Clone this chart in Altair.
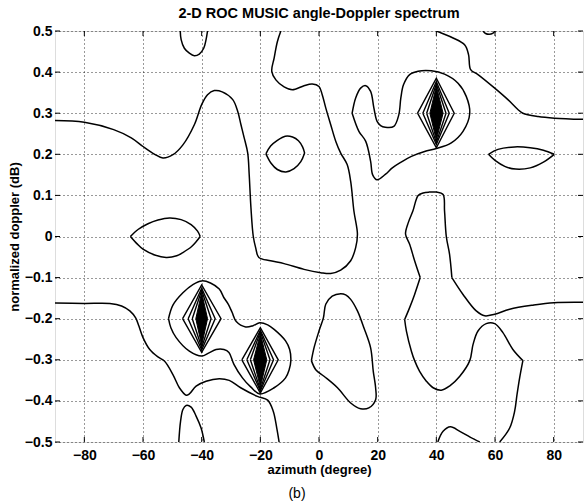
import altair as alt
import pandas as pd

# ---------------- axis ticks ----------------
x_ticks = [-80, -60, -40, -20, 0, 20, 40, 60, 80]
y_ticks = [-0.5, -0.4, -0.3, -0.2, -0.1, 0.0, 0.1, 0.2, 0.3, 0.4, 0.5]

# ---------------- contour lines (azimuth deg, normalized doppler) ----------------
contour_a = [(-90, 0.282), (-80, 0.278), (-70, 0.260), (-64, 0.240), (-60, 0.219), (-56, 0.200),
             (-53.2, 0.191), (-49.8, 0.199), (-46.4, 0.223), (-42.5, 0.272), (-40, 0.321), (-38, 0.345),
             (-35.7, 0.355), (-33, 0.352), (-29.4, 0.333), (-27.7, 0.304), (-26.6, 0.272), (-25.5, 0.240),
             (-24.3, 0.203), (-23.8, 0.151), (-23.2, 0.070), (-22.4, 0.0), (-21.6, -0.027), (-20.5, -0.051),
             (-16.5, -0.059), (-11.9, -0.066), (-5.1, -0.080), (0.6, -0.088), (4.0, -0.090), (7.4, -0.082),
             (10.8, -0.059), (12.5, -0.027), (13.1, 0.006), (11.9, 0.062), (10.8, 0.134), (9.6, 0.175),
             (7.4, 0.203), (5.7, 0.232), (4.0, 0.272), (2.3, 0.313), (1.1, 0.345), (0, 0.365),
             (-2.3, 0.371), (-5.1, 0.367), (-9.1, 0.357), (-11.9, 0.364), (-14.7, 0.381), (-16.1, 0.402),
             (-15.3, 0.434), (-14.2, 0.474), (-13.0, 0.5)]
contour_b = [(-47.3, 0.5), (-47.0, 0.479), (-45.9, 0.458), (-44.2, 0.446), (-42.5, 0.440),
             (-40.8, 0.444), (-39.3, 0.458), (-38.5, 0.479), (-38.0, 0.5)]
contour_c_top = [(-18.1, 0.201), (-16.5, 0.220), (-14.2, 0.234), (-11.5, 0.244), (-9.0, 0.242),
                 (-7.0, 0.233), (-5.6, 0.218), (-4.9, 0.203)]
contour_c_bot = [(-18.1, 0.201), (-16.4, 0.179), (-14.2, 0.163), (-11.3, 0.157), (-8.5, 0.165),
                 (-6.2, 0.182), (-4.9, 0.203)]
contour_d_top = [(-64.3, 0.0), (-61.7, 0.017), (-58.3, 0.031), (-54.9, 0.040), (-51.0, 0.045),
                 (-47.0, 0.041), (-43.6, 0.029), (-41.4, 0.013), (-40.5, 0.0)]
contour_d_bot = [(-64.3, 0.0), (-62.0, -0.018), (-60.0, -0.031), (-56.0, -0.045), (-52.1, -0.051),
                 (-48.5, -0.047), (-46.4, -0.039), (-43.5, -0.025), (-41.9, -0.013), (-40.5, 0.0)]
contour_e = [(-90, -0.162), (-80, -0.163), (-71.3, -0.163), (-67.3, -0.169), (-64.5, -0.181),
             (-62.5, -0.198), (-61.4, -0.218), (-60.0, -0.246), (-57.7, -0.275), (-54.9, -0.293),
             (-52.7, -0.303), (-49.8, -0.336), (-47.6, -0.368), (-45.3, -0.386), (-44.2, -0.383),
             (-41.9, -0.364), (-38.5, -0.352), (-34.0, -0.346), (-30.6, -0.350), (-26.7, -0.368),
             (-21.0, -0.389), (-17.5, -0.398), (-15.6, -0.425), (-14.4, -0.466), (-13.6, -0.5)]
loop_peaks = [(-51.3, -0.200), (-49.8, -0.167), (-46.4, -0.137), (-43.0, -0.117), (-40.0, -0.108),
              (-37.0, -0.113), (-34.0, -0.128), (-32.4, -0.149), (-30.9, -0.165), (-29.6, -0.185),
              (-28.2, -0.207), (-25.0, -0.220), (-22.5, -0.217), (-20.2, -0.210), (-17.5, -0.215),
              (-15.3, -0.226), (-11.4, -0.254), (-10.0, -0.275), (-9.6, -0.302), (-10.2, -0.325),
              (-11.4, -0.344), (-15.3, -0.368), (-20.2, -0.383), (-23.3, -0.366), (-26.1, -0.344),
              (-29.0, -0.311), (-30.7, -0.282), (-32.4, -0.275), (-35.1, -0.275), (-37.5, -0.283),
              (-40.0, -0.291), (-44.2, -0.279), (-48.7, -0.246), (-50.5, -0.222), (-51.3, -0.200)]
loop_right = [(11.3, 0.300), (12.5, 0.337), (14.2, 0.361), (15.9, 0.367), (17.6, 0.353), (18.7, 0.313),
              (19.8, 0.280), (21.0, 0.270), (22.6, 0.266), (25.5, 0.268), (27.2, 0.296), (27.9, 0.337),
              (28.8, 0.369), (30.9, 0.394), (33.8, 0.402), (38.3, 0.403), (42.8, 0.395), (47.4, 0.373),
              (50.2, 0.341), (51.4, 0.300), (49.1, 0.256), (45.1, 0.228), (40.0, 0.214), (36.0, 0.207),
              (31.5, 0.195), (28.0, 0.181), (25.0, 0.167), (22.6, 0.151), (19.8, 0.138), (18.3, 0.150),
              (17.6, 0.183), (15.9, 0.232), (13.6, 0.256), (11.3, 0.300)]
contour_n = [(40.0, 0.5), (41.7, 0.495), (45.7, 0.483), (49.7, 0.466), (51.0, 0.442), (51.7, 0.406),
             (54.2, 0.394), (59.9, 0.361), (64.4, 0.333), (67.8, 0.309), (69.5, 0.300), (74.7, 0.292),
             (80.3, 0.288), (90.0, 0.285)]
contour_o = [(55.9, 0.5), (56.8, 0.494), (58.0, 0.492), (59.2, 0.494), (59.9, 0.5)]
contour_p_top = [(57.8, 0.200), (61.0, 0.212), (66.7, 0.218), (72.0, 0.216), (76.5, 0.210), (80.2, 0.200)]
contour_p_bot = [(57.8, 0.200), (60.0, 0.185), (63.5, 0.170), (67.0, 0.164), (72.0, 0.167),
                 (76.5, 0.181), (80.2, 0.200)]
contour_f1 = [(61.6, -0.5), (65.0, -0.466), (66.7, -0.425), (67.5, -0.385), (68.4, -0.344), (69.5, -0.302)]
contour_f2 = [(69.5, -0.302), (66.1, -0.275), (62.7, -0.234), (59.9, -0.212), (57.0, -0.212),
              (54.2, -0.230), (52.5, -0.263), (51.4, -0.302), (48.0, -0.340), (44.5, -0.364),
              (41.7, -0.374), (38.9, -0.368), (36.6, -0.352), (34.3, -0.328), (32.6, -0.302),
              (31.5, -0.279), (29.8, -0.230), (29.2, -0.202)]
contour_f3 = [(29.2, -0.202), (30.9, -0.173), (32.6, -0.141), (34.5, -0.100)]
contour_f4 = [(34.5, -0.100), (32.6, -0.059), (30.9, -0.019), (29.5, 0.006), (30.5, 0.035), (32.0, 0.062),
              (33.8, 0.100), (35.5, 0.106), (37.5, 0.108), (40.0, 0.108), (42.3, 0.102), (42.8, 0.062),
              (43.4, 0.0), (44.5, -0.043), (45.3, -0.100)]
contour_f5 = [(45.3, -0.100), (49.1, -0.141), (53.6, -0.181), (56.5, -0.193), (59.9, -0.189),
              (65.0, -0.177), (73.0, -0.167), (80.1, -0.161), (90.0, -0.160)]
loop_g = [(-2.6, -0.302), (-1.7, -0.271), (0.0, -0.230), (1.5, -0.198), (2.3, -0.165), (4.5, -0.145),
          (7.4, -0.139), (9.1, -0.142), (10.8, -0.153), (13.1, -0.181), (15.3, -0.222), (17.6, -0.271),
          (18.5, -0.328), (19.3, -0.368), (19.3, -0.397), (17.0, -0.417), (14.2, -0.419), (10.8, -0.405),
          (6.3, -0.368), (1.7, -0.340), (-1.1, -0.324), (-2.6, -0.302)]
contour_h = [(-47.8, -0.5), (-47.2, -0.45), (-46.4, -0.421), (-45.3, -0.411), (-43.6, -0.415),
             (-41.9, -0.437), (-40.2, -0.466), (-39.1, -0.5)]
contour_i = [(40.5, -0.5), (42.3, -0.474), (44.8, -0.463), (48.0, -0.474), (51.5, -0.488), (54.8, -0.5)]

smooth_curves = {
    "a": contour_a, "b": contour_b, "c1": contour_c_top, "c2": contour_c_bot,
    "d1": contour_d_top, "d2": contour_d_bot, "e": contour_e, "lp": loop_peaks,
    "lr": loop_right, "n": contour_n, "o": contour_o, "p1": contour_p_top, "p2": contour_p_bot,
    "f1": contour_f1, "f2": contour_f2, "f3": contour_f3, "f4": contour_f4, "f5": contour_f5,
    "g": loop_g, "h": contour_h, "i": contour_i,
}

# ---------------- peak diamonds: (left, right, top, bottom) per ring ----------------
peak_center_x = [-40, -20, 40]
peak_center_y = [-0.2, -0.3, 0.3]
ring1 = [(-46.5, -33.4, -0.118, -0.282), (-26.3, -13.9, -0.222, -0.381), (33.6, 46.1, 0.385, 0.216)]
ring2 = [(-44.6, -35.4, -0.126, -0.276), (-24.6, -15.5, -0.228, -0.376), (35.4, 44.4, 0.377, 0.224)]
ring3 = [(-43.2, -36.8, -0.131, -0.270), (-23.4, -16.7, -0.232, -0.372), (36.7, 43.3, 0.371, 0.229)]
core_fill = [(-42.0, -38.0, -0.136, -0.265), (-22.3, -17.8, -0.236, -0.367), (37.8, 42.3, 0.366, 0.234)]

# ---------------- build tables ----------------
rows = []
for name, pts in smooth_curves.items():
    for i, (x, y) in enumerate(pts):
        rows.append({"c": name, "i": i, "x": x, "y": y})
smooth_df = pd.DataFrame(rows)


def diamond_rows(rings, tag):
    out = []
    for k, (l, r, t, b) in enumerate(rings):
        cx, cy = peak_center_x[k], peak_center_y[k]
        for i, (x, y) in enumerate([(l, cy), (cx, t), (r, cy), (cx, b), (l, cy)]):
            out.append({"c": f"{tag}{k}", "i": i, "x": x, "y": y})
    return out


ring_df = pd.DataFrame(diamond_rows(ring1, "r1_") + diamond_rows(ring2, "r2_") + diamond_rows(ring3, "r3_"))
fill_rows = []
for k, (l, r, t, b) in enumerate(core_fill):
    cx, cy = peak_center_x[k], peak_center_y[k]
    fill_rows += [{"c": str(k), "x": l, "y": cy, "y2": cy},
                  {"c": str(k), "x": cx, "y": t, "y2": b},
                  {"c": str(k), "x": r, "y": cy, "y2": cy}]
fill_df = pd.DataFrame(fill_rows)

xt_df = pd.DataFrame({"v": x_ticks})
yt_df = pd.DataFrame({"v": y_ticks})

W, H = 528, 411
FONT = "Liberation Sans"

xs = alt.Scale(domain=[-90, 90], nice=False, zero=False)
ys = alt.Scale(domain=[-0.5, 0.5], nice=False, zero=False)
xaxis = alt.Axis(values=x_ticks, title="azimuth (degree)", grid=True, gridDash=[1, 3],
                 gridColor="black", gridOpacity=0.8, gridWidth=1, domain=False, ticks=False,
                 labelPadding=6, labelFont=FONT, labelFontSize=14, labelFontWeight="bold",
                 labelColor="black", labelFlush=False, format="d", titleFont=FONT,
                 titleFontSize=13, titleFontWeight="bold", titleColor="black", titlePadding=1)
yaxis = alt.Axis(values=y_ticks, title="normalized doppler (dB)", grid=True, gridDash=[1, 3],
                 gridColor="black", gridOpacity=0.8, gridWidth=1, domain=False, ticks=False,
                 labelPadding=3, labelFont=FONT, labelFontSize=14, labelFontWeight="bold",
                 labelColor="black", labelFlush=False, format=".1~f", titleFont=FONT,
                 titleFontSize=13, titleFontWeight="bold", titleColor="black", titlePadding=3)


def X(f):
    return alt.X(f, type="quantitative", scale=xs, axis=xaxis)


def Y(f):
    return alt.Y(f, type="quantitative", scale=ys, axis=yaxis)


smooth = alt.Chart(smooth_df).mark_line(interpolate="catmull-rom", color="black", strokeWidth=1.5,
                                        clip=True).encode(
    x=X("x"), y=Y("y"), detail="c:N", order="i:Q")
rings = alt.Chart(ring_df).mark_line(interpolate="linear", color="black", strokeWidth=1.4,
                                     clip=True).encode(
    x=X("x"), y=Y("y"), detail="c:N", order="i:Q")
fills = alt.Chart(fill_df).mark_area(interpolate="linear", color="black", opacity=1,
                                     stroke="black", strokeWidth=1).encode(
    x=X("x"), y=Y("y"), y2=alt.Y2("y2"), detail="c:N")

tick_len = 5
xt_bottom = alt.Chart(xt_df).mark_rule(color="black", strokeWidth=1).encode(
    x=X("v"), y=alt.value(H), y2=alt.value(H - tick_len))
xt_top = alt.Chart(xt_df).mark_rule(color="black", strokeWidth=1).encode(
    x=X("v"), y=alt.value(0), y2=alt.value(tick_len))
yt_left = alt.Chart(yt_df).mark_rule(color="black", strokeWidth=1).encode(
    y=Y("v"), x=alt.value(0), x2=alt.value(tick_len))
yt_right = alt.Chart(yt_df).mark_rule(color="black", strokeWidth=1).encode(
    y=Y("v"), x=alt.value(W), x2=alt.value(W - tick_len))

label_b = alt.Chart(pd.DataFrame({"t": ["(b)"]})).mark_text(
    font=FONT, fontSize=14, color="black", align="center", baseline="middle").encode(
    x=alt.value(242), y=alt.value(463), text="t:N")

chart = alt.layer(smooth, rings, fills, xt_bottom, xt_top, yt_left, yt_right, label_b).properties(
    width=W, height=H,
    title=alt.TitleParams("2-D ROC MUSIC angle-Doppler spectrum", font=FONT, fontSize=14.5,
                          fontWeight="bold", color="black", anchor="middle", offset=3),
    padding={"left": 55, "top": 31, "right": 1, "bottom": 61},
    autosize=alt.AutoSizeParams(type="none"),
).configure_view(stroke="black", strokeWidth=1.2).configure(background="white")

chart.save("out.html", embed_options={"renderer": "svg", "actions": False})
